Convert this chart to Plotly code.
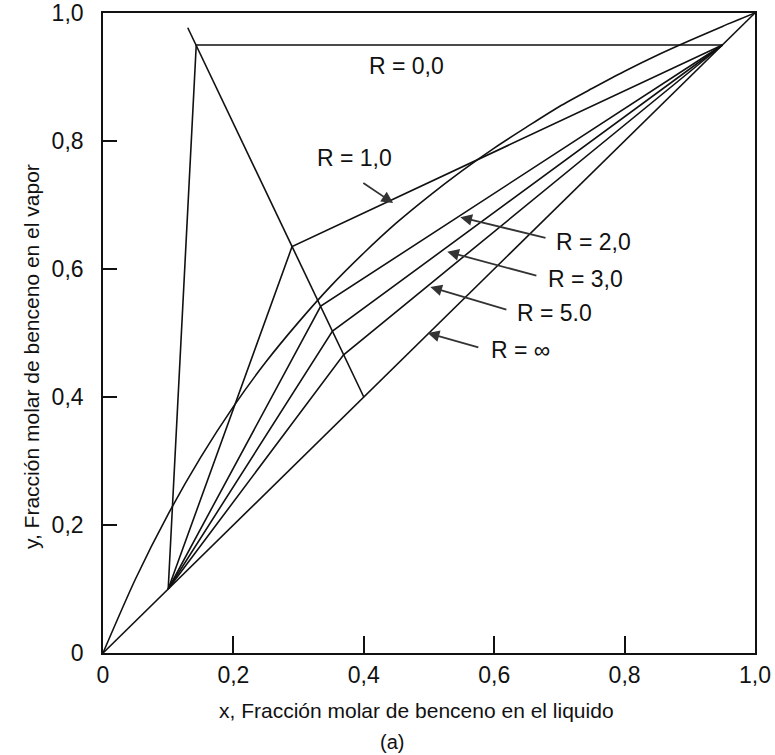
import plotly.graph_objects as go

# Equilibrium curve
eq_x = [0, 0.05, 0.1, 0.15, 0.2, 0.25, 0.3, 0.35, 0.4, 0.45, 0.5, 0.55, 0.6, 0.65, 0.7, 0.75, 0.8, 0.85, 0.9, 0.95, 1.0]
eq_y = [0, 0.116, 0.217, 0.306, 0.385, 0.455, 0.517, 0.574, 0.625, 0.672, 0.714, 0.753, 0.789, 0.822, 0.854, 0.882, 0.909, 0.934, 0.957, 0.979, 1.0]

# Diagonal y = x
diag_x = [0, 1.0]
diag_y = [0, 1.0]

# Compositions
x_D = 0.95
x_W = 0.10
q_x = [0.40, 0.13]
q_y = [0.40, 0.977]

# Operating-line intersections with the q-line, for R = 0, 1, 2, 3, 5
R_names = ["0,0", "1,0", "2,0", "3,0", "5.0"]
pinch_x = [0.143, 0.29, 0.334, 0.352, 0.369]
pinch_y = [0.95, 0.635, 0.542, 0.503, 0.466]

# Labels and their arrows (head on line, tail near text)
label_text = ["R = 0,0", "R = 1,0", "R = 2,0", "R = 3,0", "R = 5.0", "R = \u221e"]
label_x = [0.466, 0.385, 0.752, 0.740, 0.692, 0.640]
label_y = [0.917, 0.773, 0.642, 0.584, 0.531, 0.473]
arrow_head_x = [None, 0.445, 0.548, 0.528, 0.502, 0.498]
arrow_head_y = [None, 0.703, 0.681, 0.627, 0.572, 0.500]
arrow_tail_x = [None, 0.397, 0.681, 0.667, 0.621, 0.578]
arrow_tail_y = [None, 0.736, 0.648, 0.589, 0.536, 0.477]

tick_vals = [0, 0.2, 0.4, 0.6, 0.8, 1.0]
tick_text = ["0", "0,2", "0,4", "0,6", "0,8", "1,0"]

FONT = "Liberation Sans, Arial"
LINE = dict(color="#111111", width=1.6)

fig = go.Figure()
fig.add_trace(go.Scatter(x=eq_x, y=eq_y, mode="lines", line=dict(shape="spline", smoothing=0.8, **LINE), hoverinfo="skip"))
fig.add_trace(go.Scatter(x=diag_x, y=diag_y, mode="lines", line=LINE, hoverinfo="skip"))
fig.add_trace(go.Scatter(x=q_x, y=q_y, mode="lines", line=LINE, hoverinfo="skip"))
for px, py in zip(pinch_x, pinch_y):
    fig.add_trace(go.Scatter(x=[x_W, px, x_D], y=[x_W, py, x_D], mode="lines", line=LINE, hoverinfo="skip"))

ann = []
for t, lx, ly in zip(label_text, label_x, label_y):
    ann.append(dict(x=lx, y=ly, xref="x", yref="y", text=t, showarrow=False,
                    xanchor="center", yanchor="middle",
                    font=dict(family=FONT, size=23, color="#111111")))
for hx, hy, tx, ty in zip(arrow_head_x, arrow_head_y, arrow_tail_x, arrow_tail_y):
    if hx is None:
        continue
    ann.append(dict(x=hx, y=hy, ax=tx, ay=ty, xref="x", yref="y", axref="x", ayref="y",
                    text="", showarrow=True, arrowhead=2, arrowsize=1.3, arrowwidth=1.8,
                    arrowcolor="#333333", standoff=0))

# Axis titles and caption
ann.append(dict(x=(416 - 103) / 652, y=(653 - 710) / 640, xref="paper", yref="paper",
                xanchor="center", yanchor="middle",
                text="x, Fracción molar de benceno en el liquido", showarrow=False,
                font=dict(family=FONT, size=21, color="#111111")))
ann.append(dict(x=(31 - 103) / 652, y=(653 - 357) / 640, xref="paper", yref="paper",
                xanchor="center", yanchor="middle",
                text="y, Fracción molar de benceno en el vapor", showarrow=False, textangle=-90,
                font=dict(family=FONT, size=21, color="#111111")))
ann.append(dict(x=(392 - 103) / 652, y=(653 - 742) / 640, xref="paper", yref="paper",
                xanchor="center", yanchor="middle",
                text="(a)", showarrow=False,
                font=dict(family=FONT, size=20, color="#111111")))

axis_common = dict(range=[0, 1.0], showgrid=False, zeroline=False, showline=True,
                   linecolor="#111111", linewidth=1.6, mirror=True, ticks="inside",
                   tickcolor="#111111", tickwidth=1.6, tickvals=tick_vals, ticktext=tick_text,
                   tickfont=dict(family=FONT, size=23, color="#111111"),
                   fixedrange=True, automargin=False, ticklabeloverflow="allow")

fig.update_layout(
    width=775, height=755,
    margin=dict(l=103, r=20, t=13, b=102, autoexpand=False),
    paper_bgcolor="white", plot_bgcolor="white",
    showlegend=False,
    xaxis=dict(**axis_common, ticklen=17, ticklabelstandoff=1),
    yaxis=dict(**axis_common, ticklen=14, ticklabelstandoff=13),
    annotations=ann,
)

# Remove the browser's default 8px page margin so the figure fills the window.
fig.write_html("out.html", config={"displayModeBar": False},
               post_script="document.body.style.margin='0';document.body.style.overflow='hidden';")
